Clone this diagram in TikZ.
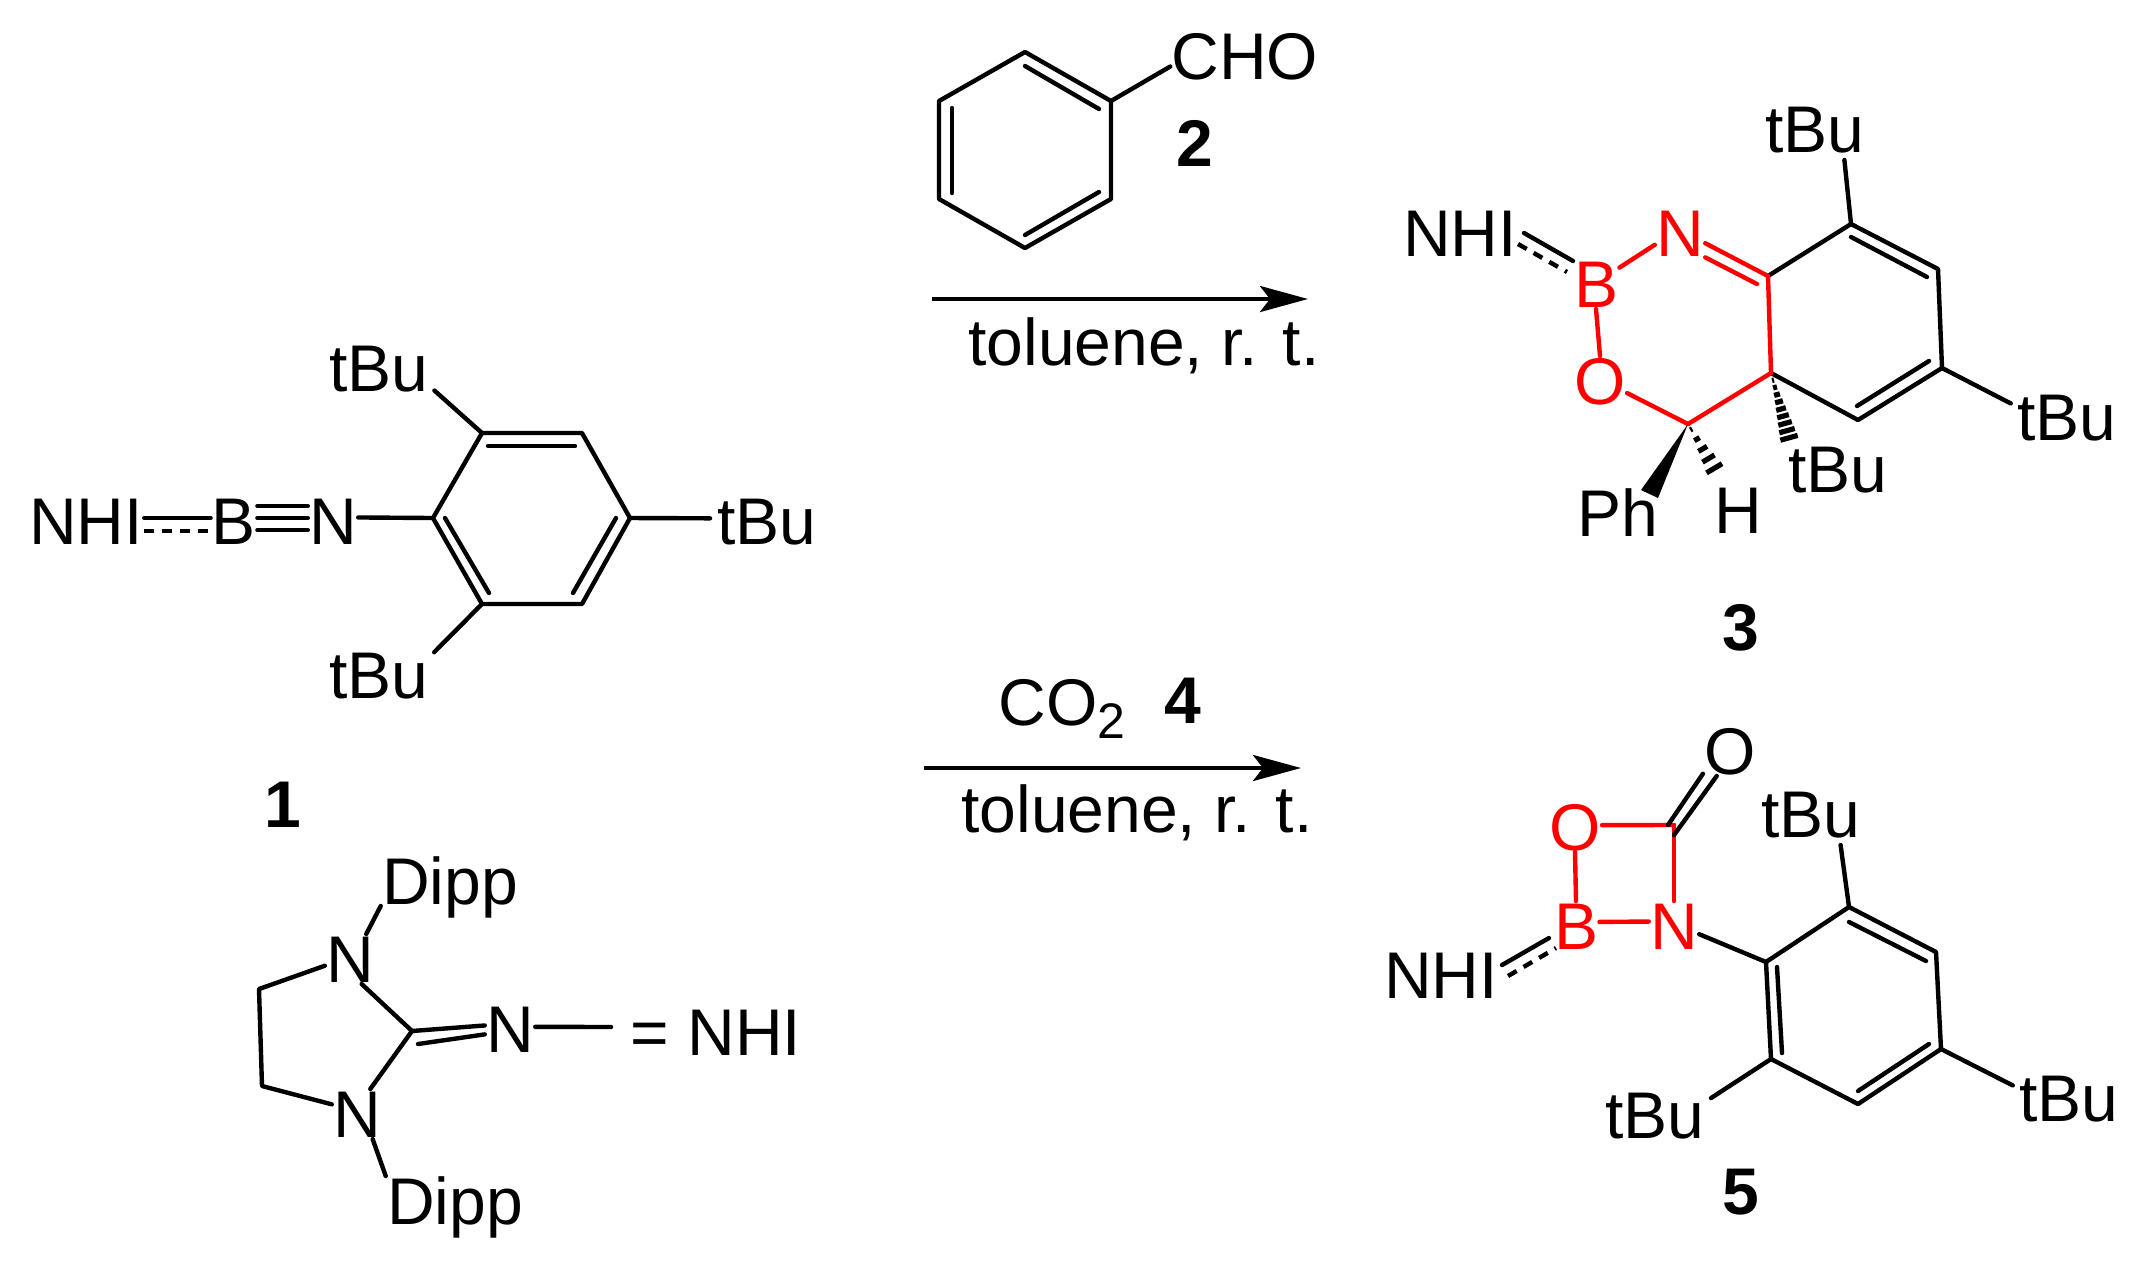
\documentclass[tikz,border=0pt]{standalone}
\usepackage{fontspec}
\setmainfont{Liberation Sans}
\usetikzlibrary{calc,arrows.meta}
\tikzset{
  bond/.style={line width=2.2pt,line cap=round,line join=round},
  subst/.style={bond,shorten >=3pt},
  atom/.style={inner sep=0.5pt,text height=23.6pt,text depth=0pt,font=\fontsize{33}{36}\selectfont},
  cmpd/.style={atom,font=\fontsize{33}{36}\selectfont\bfseries},
  cond/.style={inner sep=0pt,anchor=base west,font=\fontsize{33}{36}\selectfont},
}
% hashed wedge from #1 to #2, half width #3 at the far end
\newcommand{\hashwedge}[4]{
  \foreach \t in {#4} {
    \draw[line width=2.6pt] ($(#1)!\t!(#2)!{\t*#3*0.5pt}!90:(#2)$) -- ($(#1)!\t!(#2)!{\t*#3*0.5pt}!-90:(#2)$);
  }
}
\begin{document}
\begin{tikzpicture}[x=0.5pt,y=-0.5pt]
\useasboundingbox (0,0) rectangle (2151,1276);

% compound 1
\foreach \n/\x/\y in {1/482/433,2/582/433,3/630/518,4/582/604,5/482/604,6/433/518,
    7/488/446,8/575/446,9/445/518,10/489/593,11/616/518,12/573/593} {
  \coordinate (a\n) at (\x,\y);
}
\node[atom] (nhia) at (86,521) {NHI};
\node[atom] (ba) at (234,521) {B};
\node[atom] (na) at (333,521) {N};
\node[atom] (tbua) at (379,368) {tBu};
\node[atom] (tbub) at (379,675) {tBu};
\node[atom] (tbuc) at (767,521) {tBu};
\node[cmpd] (cmpa) at (283,804) {1};
\draw[bond] (a1) -- (a2) -- (a3) -- (a4) -- (a5) -- (a6) -- cycle;
\foreach \a/\b in {a7/a8,a9/a10,a11/a12,a6/na.8} {
  \draw[bond] (\a) -- (\b);
}
\foreach \a/\b in {a1/tbua.-20,a5/tbub.20,a3/tbuc.177} {
  \draw[subst] (\a) -- (\b);
}
\foreach \s in {-4.5,1.5,7.5} {
  \draw[bond] ([yshift=\s pt]ba.east) -- ([yshift=\s pt]na.west);
}
\draw[bond] ([yshift=1.5pt]nhia.east) -- ([yshift=1.5pt]ba.west);
\draw[bond,dash pattern=on 5pt off 4pt,line cap=butt] ([yshift=-5pt]nhia.east) -- ([yshift=-5pt]ba.west);

% NHI
\node[atom] (dn) at (350,959) {N};
\node[atom] (dm) at (357,1114) {N};
\node[atom] (dr) at (510,1029) {N};
\node[atom] (dipa) at (450,881) {Dipp};
\node[atom] (dipb) at (455,1201) {Dipp};
\node[atom] (nhid) at (716,1032) {= NHI};
\coordinate (d1) at (259,989);
\coordinate (d2) at (262,1086);
\coordinate (d3) at (412,1031);
\coordinate (d4) at (418,1044);
\coordinate (d5) at (611,1027);
\draw[bond] (dn.57) -- (dipa.south west);
\draw[bond] (dm.-58) -- (dipb.north west);
\draw[bond] (dn.195) -- (d1) -- (d2) -- (dm.159);
\draw[bond] (dn.-65) -- (d3) -- (dm.62);
\draw[bond] (d3) -- (dr.172);
\draw[bond] (d4) -- (dr.192);
\draw[bond] (dr.5) -- (d5);

% compound 2
\foreach \n/\x/\y in {1/1025/52,2/1111/101,3/1111/199,4/1025/248,5/939/199,6/939/101,
    7/1025/66,8/1099/109,9/1099/192,10/1025/235,11/952/108,12/952/193} {
  \coordinate (b\n) at (\x,\y);
}
\node[atom] (cho) at (1245,56) {CHO};
\node[cmpd] (cmpb) at (1195,143) {2};
\draw[bond] (b1) -- (b2) -- (b3) -- (b4) -- (b5) -- (b6) -- cycle;
\foreach \a/\b in {b7/b8,b9/b10,b11/b12,b2/cho.188} {
  \draw[bond] (\a) -- (\b);
}

% reaction arrows
\coordinate (ara) at (932,299);
\coordinate (arb) at (1308,299);
\coordinate (arc) at (924,768);
\coordinate (ard) at (1301,768);
\foreach \a/\b in {ara/arb,arc/ard} {
  \draw[line width=2.2pt,-{Stealth[length=24pt,width=13pt,inset=5pt]}] (\a) -- (\b);
}
\node[cond] (tola) at (968,365) {toluene, r. t.};
\node[cond] (tolb) at (961,832) {toluene, r. t.};
\node[cond] (coa) at (998,725) {CO\raisebox{-6.5pt}{\fontsize{25}{28}\selectfont 2}};
\node[cmpd] (cmpd) at (1183,700) {4};

% compound 3
\foreach \n/\x/\y in {1/1851/224,2/1938/269,3/1942/368,4/1858/420,5/1771/373,6/1768/276,
    7/1851/237,8/1927/277,9/1929/361,10/1857/406,11/1688/424,12/1757/284,
    13/1524/233,14/1573/261,15/1518/244,16/1567/272,17/1641/490,18/1658/498,19/1720/478,20/1791/445} {
  \coordinate (c\n) at (\x,\y);
}
\node[atom] (nhib) at (1460,233) {NHI};
\node[atom,red] (bb) at (1596,284) {B};
\node[atom,red] (nb) at (1680,233) {N};
\node[atom,red] (ob) at (1600,381) {O};
\node[atom] (ph) at (1618,513) {Ph};
\node[atom] (hh) at (1738,510) {H};
\node[atom] (tbud) at (1815,129) {tBu};
\node[atom] (tbue) at (2067,417) {tBu};
\node[atom] (tbuf) at (1838,469) {tBu};
\node[cmpd] (cmpc) at (1741,627) {3};
\draw[bond] (c6) -- (c1) -- (c2) -- (c3) -- (c4) -- (c5);
\foreach \a/\b in {c7/c8,c9/c10,c13/c14} {
  \draw[bond] (\a) -- (\b);
}
\foreach \a/\b in {c1/tbud.-41,c3/tbue.168} {
  \draw[subst] (\a) -- (\b);
}
\draw[bond,dash pattern=on 5pt off 4pt,line cap=butt] (c15) -- (c16);
\foreach \a/\b in {bb.35/nb.205,bb.south/ob.north,ob.-24/c11,c11/c5,c5/c6,nb.-22/c6,nb.-44/c12} {
  \draw[bond,red] (\a) -- (\b);
}
\fill (c11) -- (c17) -- (c18) -- cycle;
\hashwedge{c11}{c19}{11}{0.1,0.28,0.46,0.64,0.82,1}
\hashwedge{c5}{c20}{10}{0.1,0.2,0.3,0.4,0.5,0.6,0.7,0.8,0.9,1}

% compound 5
\foreach \n/\x/\y in {1/1849/907,2/1936/952,3/1941/1049,4/1858/1104,5/1771/1059,6/1766/962,
    7/1849/922,8/1926/961,9/1929/1044,10/1858/1091,11/1777/967,12/1782/1053,
    13/1674/825,14/1674/835,15/1668/825,16/1502/965,17/1549/938,18/1508/976,19/1556/948} {
  \coordinate (e\n) at (\x,\y);
}
\node[atom] (nhic) at (1441,975) {NHI};
\node[atom,red] (be) at (1576,926) {B};
\node[atom,red] (ne) at (1674,926) {N};
\node[atom,red] (oe) at (1575,827) {O};
\node[atom] (ocb) at (1730,751) {O};
\node[atom] (tbug) at (1811,814) {tBu};
\node[atom] (tbuh) at (2069,1098) {tBu};
\node[atom] (tbui) at (1655,1115) {tBu};
\node[cmpd] (cmpe) at (1741,1191) {5};
\foreach \a/\b in {be.10/ne.170,ne.north/e13,oe.south/be.north,oe.4/e13} {
  \draw[bond,red] (\a) -- (\b);
}
\draw[bond] (e1) -- (e2) -- (e3) -- (e4) -- (e5) -- (e6) -- cycle;
\foreach \a/\b in {e7/e8,e9/e10,e11/e12,e15/ocb.220,e14/ocb.242,ne.-18/e6,e16/e17} {
  \draw[bond] (\a) -- (\b);
}
\foreach \a/\b in {e1/tbug.-41,e3/tbuh.169,e5/tbui.15} {
  \draw[subst] (\a) -- (\b);
}
\draw[bond,dash pattern=on 5pt off 4pt,line cap=butt] (e18) -- (e19);
\end{tikzpicture}
\end{document}
